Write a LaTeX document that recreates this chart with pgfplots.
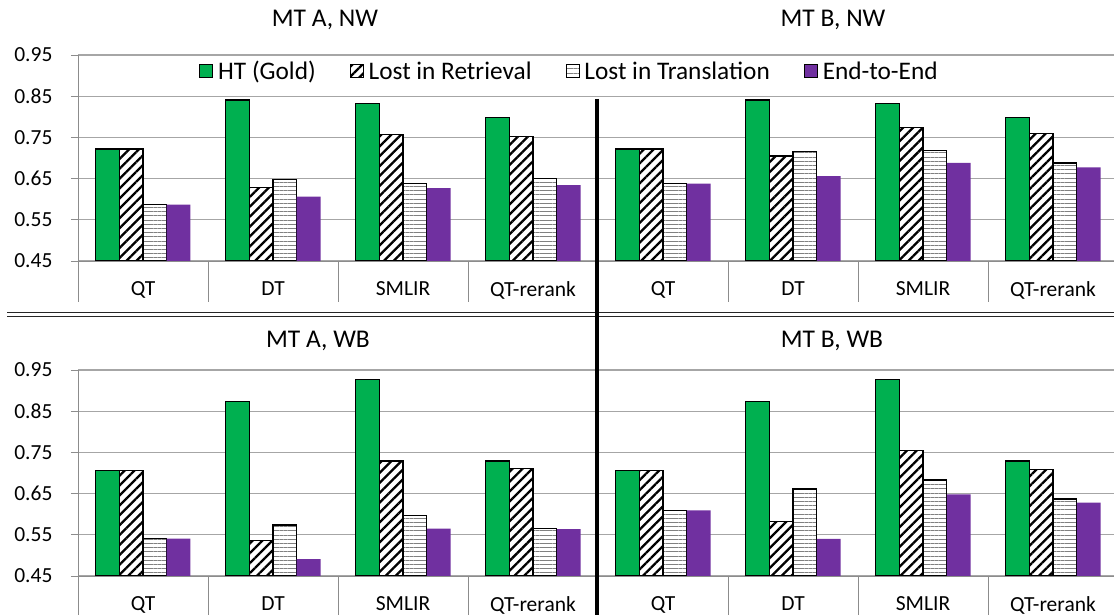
\documentclass[border=0pt]{standalone}
\usepackage{pgfplots}
\pgfplotsset{compat=1.18}
\usepackage{pgfplotstable}
\usepackage{fontspec}
\setmainfont{Carlito}
\usetikzlibrary{patterns.meta}
\definecolor{xlgreen}{HTML}{00B050}
\definecolor{xlpurple}{HTML}{7030A0}
\definecolor{gridgray}{HTML}{A6A6A6}
\definecolor{axisgray}{HTML}{8C8C8C}

% columns: category index, HT (Gold), Lost in Retrieval, Lost in Translation, End-to-End
\pgfplotstableread{
x ht lr lt ee
0 0.722 0.722 0.588 0.587
1 0.841 0.629 0.648 0.606
2 0.832 0.757 0.639 0.627
3 0.799 0.753 0.651 0.634
}\tAN
\pgfplotstableread{
x ht lr lt ee
0 0.722 0.722 0.638 0.638
1 0.841 0.705 0.715 0.656
2 0.832 0.774 0.719 0.688
3 0.799 0.760 0.688 0.677
}\tBN
\pgfplotstableread{
x ht lr lt ee
0 0.706 0.706 0.541 0.541
1 0.874 0.537 0.574 0.491
2 0.926 0.729 0.596 0.565
3 0.729 0.710 0.565 0.564
}\tAW
\pgfplotstableread{
x ht lr lt ee
0 0.706 0.706 0.609 0.609
1 0.874 0.582 0.661 0.540
2 0.926 0.755 0.683 0.648
3 0.729 0.709 0.637 0.628
}\tBW

\pgfplotsset{
  panel/.style={
    scale only axis, height=206pt, anchor=south west,
    clip mode=individual,
    ymin=0.45, ymax=0.95, ytick={0.45,0.55,0.65,0.75,0.85,0.95},
    xmin=-0.5,
    ybar=0pt, bar width=23.75pt,
    xtick={0,1,2,3}, xticklabels={QT,DT,SMLIR,QT-rerank},
    xtick style={draw=none},
    axis x line*=bottom, axis y line*=left,
    x axis line style={-, draw=axisgray, line width=0.9pt},
    y axis line style={-, draw=axisgray, line width=0.9pt},
    tick align=outside, major tick length=7pt,
    ytick style={draw=axisgray, line width=0.9pt},
    ymajorgrids, major grid style={draw=gridgray, line width=1.1pt},
    /pgf/number format/assume math mode=true,
    yticklabel style={xshift=-15pt, /pgf/number format/.cd, fixed, fixed zerofill, precision=2},
    tick label style={font=\fontsize{21.5}{25}\selectfont},
    xticklabel style={yshift=-10pt},
    legend image code/.code={\draw[#1, line width=0.9pt] (0pt,-6.5pt) rectangle (13pt,6.5pt);},
  },
  leftpanel/.style={panel, width=520pt, xmax=3.5},
  rightpanel/.style={panel, width=516pt, xmax=3.4692,
    yticklabels={}, ytick style={draw=none}, y axis line style={draw=none}},
  htbar/.style={fill=xlgreen, draw=black, line width=1.2pt},
  lrbar/.style={fill=white, draw=black, line width=1.2pt,
    postaction={pattern={Lines[angle=45,distance=7pt,line width=2.3pt]}, pattern color=black}},
  ltbar/.style={fill=white, draw=black, line width=1.2pt,
    postaction={pattern={Lines[angle=0,distance=4.2pt,line width=1pt]}, pattern color=gray}},
  eebar/.style={fill=xlpurple, draw=none},
}

\begin{document}
\begin{tikzpicture}[x=1pt,y=1pt]
\useasboundingbox (0,0) rectangle (1114,615);

% ---- top left: MT A, NW
\begin{axis}[leftpanel, at={(78pt,354pt)}]
\addplot[htbar] table[x=x,y=ht]{\tAN};
\addplot[lrbar] table[x=x,y=lr]{\tAN};
\addplot[ltbar] table[x=x,y=lt]{\tAN};
\addplot[eebar] table[x=x,y=ee]{\tAN};
\pgfplotsinvokeforeach{-0.5,0.5,1.5,2.5}{\draw[axisgray, line width=0.9pt] (axis cs:#1,0.45) -- ([yshift=-41pt]axis cs:#1,0.45);}
\end{axis}

% ---- top right: MT B, NW (holds the legend)
\begin{axis}[rightpanel, at={(598pt,354pt)},
  legend columns=4,
  legend style={at={(axis description cs:-0.0552,0.922)}, anchor=center,
    draw=none, fill=white, inner xsep=30pt, inner ysep=3pt,
    font=\fontsize{25.3}{29}\selectfont,
    nodes={inner xsep=2pt},
    /tikz/every odd column/.append style={column sep=3pt},
    /tikz/every even column/.append style={column sep=32pt}}]
\addplot[htbar] table[x=x,y=ht]{\tBN};
\addplot[lrbar] table[x=x,y=lr]{\tBN};
\addplot[ltbar] table[x=x,y=lt]{\tBN};
\addplot[eebar] table[x=x,y=ee]{\tBN};
\pgfplotsinvokeforeach{0.5,1.5,2.5}{\draw[axisgray, line width=0.9pt] (axis cs:#1,0.45) -- ([yshift=-41pt]axis cs:#1,0.45);}
\addlegendentry{HT (Gold)}
\addlegendentry{Lost in Retrieval}
\addlegendentry{Lost in Translation}
\addlegendentry{End-to-End}
\end{axis}

% ---- bottom left: MT A, WB
\begin{axis}[leftpanel, at={(78pt,39pt)}]
\addplot[htbar] table[x=x,y=ht]{\tAW};
\addplot[lrbar] table[x=x,y=lr]{\tAW};
\addplot[ltbar] table[x=x,y=lt]{\tAW};
\addplot[eebar] table[x=x,y=ee]{\tAW};
\pgfplotsinvokeforeach{-0.5,0.5,1.5,2.5}{\draw[axisgray, line width=0.9pt] (axis cs:#1,0.45) -- ([yshift=-41pt]axis cs:#1,0.45);}
\end{axis}

% ---- bottom right: MT B, WB
\begin{axis}[rightpanel, at={(598pt,39pt)}]
\addplot[htbar] table[x=x,y=ht]{\tBW};
\addplot[lrbar] table[x=x,y=lr]{\tBW};
\addplot[ltbar] table[x=x,y=lt]{\tBW};
\addplot[eebar] table[x=x,y=ee]{\tBW};
\pgfplotsinvokeforeach{0.5,1.5,2.5}{\draw[axisgray, line width=0.9pt] (axis cs:#1,0.45) -- ([yshift=-41pt]axis cs:#1,0.45);}
\end{axis}

% titles
\node[font=\fontsize{25.5}{30}\selectfont] at (325,595) {MT A, NW};
\node[font=\fontsize{25.5}{30}\selectfont] at (833,595) {MT B, NW};
\node[font=\fontsize{25.5}{30}\selectfont] at (318,274) {MT A, WB};
\node[font=\fontsize{25.5}{30}\selectfont] at (832,274) {MT B, WB};

% separators
\draw[line width=1.3pt, black!85] (7,302.5) -- (1114,302.5);
\draw[line width=1.3pt, black!85] (7,298.5) -- (1114,298.5);
\draw[line width=4pt, black] (597,516) -- (597,0);
\end{tikzpicture}
\end{document}
